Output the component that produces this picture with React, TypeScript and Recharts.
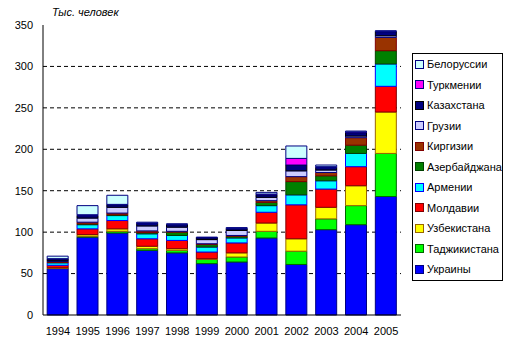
import React from "react";
import { BarChart, Bar, XAxis, YAxis, CartesianGrid } from "recharts";

const years = ["1994","1995","1996","1997","1998","1999","2000","2001","2002","2003","2004","2005"];
const ukraine = [56, 94, 99, 78, 75, 62, 64, 93, 61, 103, 109, 143];
const tajik = [0.5, 1, 2, 2, 3, 5, 6, 8, 16, 13, 23, 52];
const uzbek = [0.5, 2, 3, 3, 2, 1, 5, 10, 15, 14, 24, 50];
const moldova = [3, 7, 10, 9, 10, 8, 12, 13, 41, 22, 23, 31];
const armenia = [3, 5, 6, 6, 6, 6, 6, 8, 12, 10, 16, 27];
const azerbaijan = [0.5, 1, 1, 1.5, 4, 3, 2, 4, 16, 6, 10, 16];
const kyrgyz = [1, 2, 2, 2, 1, 1, 1, 2, 6, 4, 9, 16];
const georgia = [1, 5, 7, 6, 5, 5, 6, 4, 7, 3, 2, 2];
const kazakh = [2, 3, 3, 3, 3, 2, 2, 3, 7, 3, 4, 5];
const turkmen = [0.5, 1, 0.5, 0.5, 0.5, 0.5, 0.5, 1, 8, 1, 1, 0.5];
const belarus = [3, 11, 11, 1, 0.5, 0.5, 1, 2, 15, 2, 1, 0.5];
const yTicks = [0, 50, 100, 150, 200, 250, 300, 350];

const seriesDefs = [
  { key: "ukraine", name: "Украины", values: ukraine, fill: "#0000FF", stroke: "#000080" },
  { key: "tajik", name: "Таджикистана", values: tajik, fill: "#00FF00", stroke: "#006600" },
  { key: "uzbek", name: "Узбекистана", values: uzbek, fill: "#FFFF00", stroke: "#996600" },
  { key: "moldova", name: "Молдавии", values: moldova, fill: "#FF0000", stroke: "#800000" },
  { key: "armenia", name: "Армении", values: armenia, fill: "#00FFFF", stroke: "#0000FF" },
  { key: "azerbaijan", name: "Азербайджана", values: azerbaijan, fill: "#008000", stroke: "#004000" },
  { key: "kyrgyz", name: "Киргизии", values: kyrgyz, fill: "#993300", stroke: "#800000" },
  { key: "georgia", name: "Грузии", values: georgia, fill: "#CCCCFF", stroke: "#000080" },
  { key: "kazakh", name: "Казахстана", values: kazakh, fill: "#000080", stroke: "#000000" },
  { key: "turkmen", name: "Туркмении", values: turkmen, fill: "#FF00FF", stroke: "#000080" },
  { key: "belarus", name: "Белоруссии", values: belarus, fill: "#CCFFFF", stroke: "#000080" },
];

const data = years.map((y, i) => {
  const row: any = { year: y };
  seriesDefs.forEach((s) => (row[s.key] = s.values[i]));
  return row;
});

const FONT = "'Liberation Sans', Arial, sans-serif";

const LegendBox = () => {
  const items = [...seriesDefs].reverse();
  return (
    <div
      style={{
        position: "absolute",
        left: 412,
        top: 53,
        border: "1px solid #000",
        width: 91,
        height: 228,
        boxSizing: "border-box",
        background: "#fff",
        paddingTop: 0,
        fontFamily: FONT,
        fontSize: 11,
        color: "#000",
      }}
    >
      {items.map((s) => (
        <div key={s.key} style={{ height: 20.5, display: "flex", alignItems: "center", paddingLeft: 2, whiteSpace: "nowrap" }}>
          <span
            style={{
              display: "inline-block",
              width: 7,
              height: 7,
              background: s.fill,
              border: `1px solid ${s.stroke}`,
              marginRight: 3,
            }}
          />
          <span>{s.name}</span>
        </div>
      ))}
    </div>
  );
};

export default function App() {
  return (
    <div style={{ position: "absolute", left: 0, top: 0, width: 514, height: 357, background: "#fff" }}>
      <BarChart
        width={514}
        height={357}
        data={data}
        margin={{ top: 25, right: 113, bottom: 22, left: 0 }}
        barCategoryGap="14%"
      >
        <CartesianGrid
          vertical={false}
          stroke="#000"
          strokeDasharray="4 3"
          horizontalValues={[50, 100, 150, 200, 250, 300]}
        />
        <XAxis
          dataKey="year"
          axisLine={{ stroke: "#000" }}
          tickLine={false}
          tickSize={6}
          tickMargin={6}
          height={20}
          interval={0}
          tick={{ fill: "#000", fontSize: 11, fontFamily: FONT }}
        />
        <XAxis
          xAxisId="top"
          dataKey="year"
          orientation="top"
          height={0}
          tick={false}
          tickLine={false}
          axisLine={{ stroke: "#808080" }}
        />
        <YAxis
          width={43}
          domain={[0, 350]}
          ticks={yTicks}
          axisLine={{ stroke: "#000" }}
          tickLine={false}
          tickSize={8}
          tickMargin={2}
          interval={0}
          tick={{ fill: "#000", fontSize: 11, fontFamily: FONT }}
        />
        <YAxis
          yAxisId="right"
          orientation="right"
          width={0}
          domain={[0, 350]}
          tick={false}
          tickLine={false}
          axisLine={{ stroke: "#808080" }}
        />
        {seriesDefs.map((s) => (
          <Bar
            key={s.key}
            dataKey={s.key}
            name={s.name}
            stackId="a"
            fill={s.fill}
            stroke={s.stroke}
            strokeWidth={1}
            isAnimationActive={false}
          />
        ))}
      </BarChart>
      <div
        style={{
          position: "absolute",
          left: 52,
          top: 6,
          fontFamily: FONT,
          fontSize: 11,
          fontStyle: "italic",
          color: "#000",
        }}
      >
        Тыс. человек
      </div>
      <LegendBox />
    </div>
  );
}
